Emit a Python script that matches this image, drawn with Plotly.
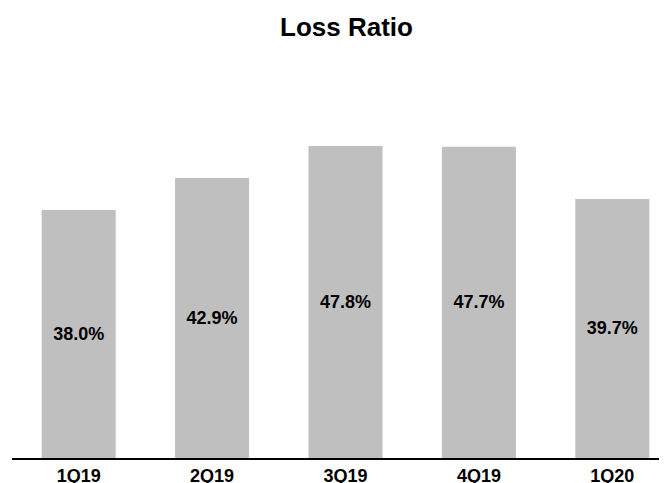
import plotly.graph_objects as go

# datos del gráfico
trimestres = ['1Q19', '2Q19', '3Q19', '4Q19', '1Q20']
loss_ratio = [38.0, 42.9, 47.8, 47.7, 39.7]
etiquetas = [f'{v:.1f}%' for v in loss_ratio]

fuente = 'Arial, Liberation Sans, sans-serif'

fig = go.Figure()
fig.add_trace(go.Bar(x=trimestres, y=loss_ratio,
                     text=etiquetas,
                     textposition='inside',
                     insidetextanchor='middle',
                     textangle=0,
                     textfont=dict(family=fuente, size=18, color='black', weight='bold'),
                     marker=dict(color='#bfbfbf', line=dict(width=0))))

# la página deja 8px de margen, así que la figura es un poco más pequeña
fig.update_layout(width=659, height=475,
                  title=dict(text='Loss Ratio', x=338.5/659, xanchor='center',
                             y=1 - 19/475, yanchor='middle', yref='container',
                             font=dict(family=fuente, size=26, color='black', weight='bold')),
                  margin=dict(l=4, r=0, t=52, b=25),
                  plot_bgcolor='white', paper_bgcolor='white',
                  bargap=0.445, showlegend=False)

fig.update_xaxes(range=[-0.5, 4.41], showline=True, linecolor='black', linewidth=2,
                 ticks='', showgrid=False, automargin=False,
                 tickfont=dict(family=fuente, size=18, color='black', weight='bold'))
fig.update_yaxes(range=[0, 61], visible=False, showgrid=False, zeroline=False)

fig.write_html('out.html')
